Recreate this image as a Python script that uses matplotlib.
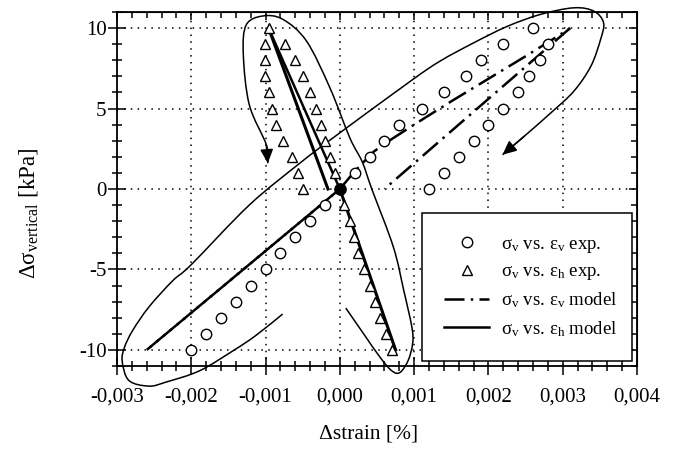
import matplotlib
matplotlib.use("Agg")
import matplotlib.pyplot as plt
import numpy as np
from matplotlib.path import Path
from matplotlib.patches import PathPatch
from matplotlib.ticker import MultipleLocator, FixedLocator, FixedFormatter

plt.rcParams['font.family'] = ['Liberation Serif', 'DejaVu Serif']
plt.rcParams['mathtext.fontset'] = 'custom'
plt.rcParams['mathtext.rm'] = 'Liberation Serif'
plt.rcParams['mathtext.it'] = 'Liberation Serif:italic'

# sigma_v vs eps_v, experiment (loading, unloading, negative branch)
ev_load_x = [0.0, 0.0002, 0.0004, 0.0006, 0.0008, 0.0011, 0.0014, 0.0017, 0.0019, 0.0022, 0.0026]
ev_load_y = [0, 1, 2, 3, 4, 5, 6, 7, 8, 9, 10]
ev_unload_x = [0.0028, 0.0027, 0.00255, 0.0024, 0.0022, 0.0020, 0.0018, 0.0016, 0.0014, 0.0012]
ev_unload_y = [9, 8, 7, 6, 5, 4, 3, 2, 1, 0]
ev_neg_x = [-0.0002, -0.0004, -0.0006, -0.0008, -0.0010, -0.0012, -0.0014, -0.0016, -0.0018, -0.0020]
ev_neg_y = [-1, -2, -3, -4, -5, -6, -7, -8, -9, -10]

# sigma_v vs eps_h, experiment
eh_load_x = [-0.00007, -0.000135, -0.0002, -0.00026, -0.00032, -0.0004, -0.0005, -0.0006, -0.00074, -0.00096]
eh_load_y = [1, 2, 3, 4, 5, 6, 7, 8, 9, 10]
eh_unload_x = [-0.00101, -0.00101, -0.00101, -0.00096, -0.00092, -0.00086, -0.00076, -0.00065, -0.00056, -0.0005]
eh_unload_y = [9, 8, 7, 6, 5, 4, 3, 2, 1, 0]
eh_neg_x = [0.00005, 0.00013, 0.00019, 0.00025, 0.00032, 0.0004, 0.00047, 0.00054, 0.00062, 0.0007]
eh_neg_y = [-1, -2, -3, -4, -5, -6, -7, -8, -9, -10]

origin = (0.0, 0.0)

# model curves
ev_mod_load_x = [0.0, 0.0002, 0.00045, 0.00063, 0.0010, 0.0015, 0.0020, 0.0025, 0.0029, 0.0031]
ev_mod_load_y = [0.0, 1.1, 2.3, 2.9, 4.0, 5.45, 6.85, 8.25, 9.4, 10.0]
ev_mod_unload_x = [0.0031, 0.0006]
ev_mod_unload_y = [10.0, 0.0]
ev_mod_neg_x = [0.0, -0.0026]
ev_mod_neg_y = [0.0, -10.0]

eh_mod_load_x = [0.0, -0.00096]
eh_mod_load_y = [0.0, 10.0]
eh_mod_unload_x = [-0.00096, -0.00016]
eh_mod_unload_y = [10.0, 0.0]
eh_mod_neg_x = [0.0, 0.00075]
eh_mod_neg_y = [0.0, -10.0]

# hand-drawn outlines around the data groups
tri_loop_x = [0.00008, 0.00032, 0.00054, 0.00070, 0.00081, 0.00092, 0.00098, 0.00097, 0.00086,
              0.00072, 0.00043, 0.00030, 0.000135, -0.000135, -0.00045, -0.00077, -0.00104,
              -0.00126, -0.00130, -0.00122, -0.00099, -0.00097]
tri_loop_y = [-7.4, -9.0, -10.45, -11.3, -11.4, -10.65, -9.6, -8.6, -6.3,
              -3.6, 0.0, 1.7, 3.17, 6.3, 9.2, 10.55, 10.75,
              10.2, 8.4, 5.25, 2.75, 1.6]
circ_loop_x = [-0.00077, -0.00113, -0.00144, -0.00189, -0.00234, -0.00257, -0.00284, -0.00293,
               -0.0029, -0.00279, -0.00257, -0.00225, -0.0020, -0.00122, -0.00054, -0.0001,
               0.00095, 0.00135, 0.0018, 0.00225, 0.0027, 0.00315, 0.00342, 0.00355, 0.00351,
               0.00338, 0.00315, 0.00284, 0.00248, 0.00219]
circ_loop_y = [-7.77, -9.1, -10.06, -11.3, -12.0, -12.25, -11.9, -10.7,
               -9.85, -8.8, -7.33, -5.7, -4.7, -1.0, 1.6, 3.15,
               6.7, 7.95, 9.08, 10.1, 10.85, 11.26, 11.05, 10.33, 9.3,
               7.64, 6.08, 4.73, 3.27, 2.13]

x_ticks = [-0.003, -0.002, -0.001, 0.0, 0.001, 0.002, 0.003, 0.004]
x_tick_labels = ['-0,003', '-0,002', '-0,001', '0,000', '0,001', '0,002', '0,003', '0,004']
y_ticks = [-10, -5, 0, 5, 10]
y_tick_labels = ['-10', '-5', '0', '5', '10']


def smooth_path(xs, ys):
    # Catmull-Rom through the points, written as cubic Bezier segments
    pts = np.column_stack([xs, ys])
    n = len(pts)
    verts = [pts[0]]
    codes = [Path.MOVETO]
    for i in range(n - 1):
        p0 = pts[max(i - 1, 0)]
        p1 = pts[i]
        p2 = pts[i + 1]
        p3 = pts[min(i + 2, n - 1)]
        verts += [p1 + (p2 - p0) / 6, p2 - (p3 - p1) / 6, p2]
        codes += [Path.CURVE4] * 3
    return Path(verts, codes)


fig = plt.figure(figsize=(6.8, 4.59), dpi=100)
ax = fig.add_axes([117 / 680, 1 - 366 / 459, 520 / 680, 354 / 459])

circ = dict(marker='o', ms=7.5, mfc='white', mec='black', mew=1.0, ls='none')
tri = dict(marker='^', ms=7.5, mfc='white', mec='black', mew=1.0, ls='none')
dashdot = (0, (8, 2.5, 1, 2.5))

lbl_ev_exp = r'σ$_\mathrm{v}$ vs. ε$_\mathrm{v}$ exp.'
lbl_eh_exp = r'σ$_\mathrm{v}$ vs. ε$_\mathrm{h}$ exp.'
lbl_ev_mod = r'σ$_\mathrm{v}$ vs. ε$_\mathrm{v}$ model'
lbl_eh_mod = r'σ$_\mathrm{v}$ vs. ε$_\mathrm{h}$ model'

l_ev_mod, = ax.plot(ev_mod_load_x, ev_mod_load_y, color='black', lw=1.8, ls=dashdot,
                    label=lbl_ev_mod, zorder=3)
ax.plot(ev_mod_unload_x, ev_mod_unload_y, color='black', lw=1.8, ls=dashdot, zorder=3)
# loading and unloading on the negative side lie on top of each other
ax.plot(ev_mod_neg_x, ev_mod_neg_y, color='black', lw=1.8, ls=dashdot, zorder=3)
ax.plot(ev_mod_neg_x, ev_mod_neg_y, color='black', lw=1.8, ls=(7, (8, 2.5, 1, 2.5)), zorder=3)

l_eh_mod, = ax.plot(eh_mod_load_x, eh_mod_load_y, color='black', lw=1.8,
                    label=lbl_eh_mod, zorder=3)
ax.plot(eh_mod_unload_x, eh_mod_unload_y, color='black', lw=2.2, zorder=3)
ax.plot(eh_mod_neg_x, eh_mod_neg_y, color='black', lw=2.2, zorder=3)

l_ev_exp, = ax.plot(ev_load_x, ev_load_y, label=lbl_ev_exp, zorder=4, **circ)
ax.plot(ev_unload_x, ev_unload_y, zorder=4, **circ)
ax.plot(ev_neg_x, ev_neg_y, zorder=4, **circ)
l_eh_exp, = ax.plot(eh_load_x, eh_load_y, label=lbl_eh_exp, zorder=4, **tri)
ax.plot(eh_unload_x, eh_unload_y, zorder=4, **tri)
ax.plot(eh_neg_x, eh_neg_y, zorder=4, **tri)
ax.plot(*origin, marker='o', ms=8, color='black', zorder=5)

# outlines and direction arrows
for lx, ly in [(tri_loop_x, tri_loop_y), (circ_loop_x, circ_loop_y)]:
    ax.add_patch(PathPatch(smooth_path(lx, ly), fc='none', ec='black', lw=1.1,
                           clip_on=False, zorder=2))
    ax.annotate('', xy=(lx[-1], ly[-1]), xytext=(lx[-2], ly[-2]),
                arrowprops=dict(arrowstyle='-|>,head_length=0.6,head_width=0.28',
                                color='black', lw=1.1, shrinkA=0, shrinkB=0,
                                mutation_scale=14), zorder=2)

ax.set_xlim(-0.003, 0.004)
ax.set_ylim(-11, 11)
ax.xaxis.set_major_locator(FixedLocator(x_ticks))
ax.xaxis.set_major_formatter(FixedFormatter(x_tick_labels))
ax.yaxis.set_major_locator(FixedLocator(y_ticks))
ax.yaxis.set_major_formatter(FixedFormatter(y_tick_labels))
ax.xaxis.set_minor_locator(MultipleLocator(0.0002))
ax.yaxis.set_minor_locator(MultipleLocator(1))

ax.grid(True, which='major', color='black', ls=(0, (1, 3.5)), lw=1.1)
ax.tick_params(which='both', direction='inout', width=1.1, labelsize=15)
ax.tick_params(which='major', length=13)
ax.tick_params(which='minor', length=7)
ax.tick_params(axis='x', pad=9)
ax.tick_params(axis='y', pad=1)
for sp in ax.spines.values():
    sp.set_linewidth(1.3)

# inward ticks on the top and right edges
top = ax.secondary_xaxis('top')
top.xaxis.set_major_locator(FixedLocator(x_ticks))
top.xaxis.set_minor_locator(MultipleLocator(0.0002))
top.tick_params(which='both', direction='in', width=1.1, labeltop=False)
top.tick_params(which='major', length=6)
top.tick_params(which='minor', length=4)
right = ax.secondary_yaxis('right')
right.yaxis.set_major_locator(FixedLocator(y_ticks))
right.yaxis.set_minor_locator(MultipleLocator(1))
right.tick_params(which='both', direction='in', width=1.1, labelright=False)
right.tick_params(which='major', length=6)
right.tick_params(which='minor', length=4)

ax.set_xlabel('Δstrain [%]', fontsize=15.5)
ax.set_ylabel(r'Δσ$_\mathrm{vertical}$ [kPa]', fontsize=16.5)
ax.xaxis.set_label_coords(0.483, -0.165)
ax.yaxis.set_label_coords(-0.148, 0.43)

leg = ax.legend([l_ev_exp, l_eh_exp, l_ev_mod, l_eh_mod],
                [lbl_ev_exp, lbl_eh_exp, lbl_ev_mod, lbl_eh_mod],
                loc='lower left', bbox_to_anchor=(0.5865, 0.014, 0.404, 0.42),
                mode='expand', borderaxespad=0, fontsize=13.5, handlelength=2.4,
                handletextpad=0.64, labelspacing=0.45, borderpad=1.2,
                fancybox=False, framealpha=1, edgecolor='black')
leg.get_frame().set_linewidth(1.1)
leg.set_zorder(6)

fig.savefig('out.png', dpi=100)
